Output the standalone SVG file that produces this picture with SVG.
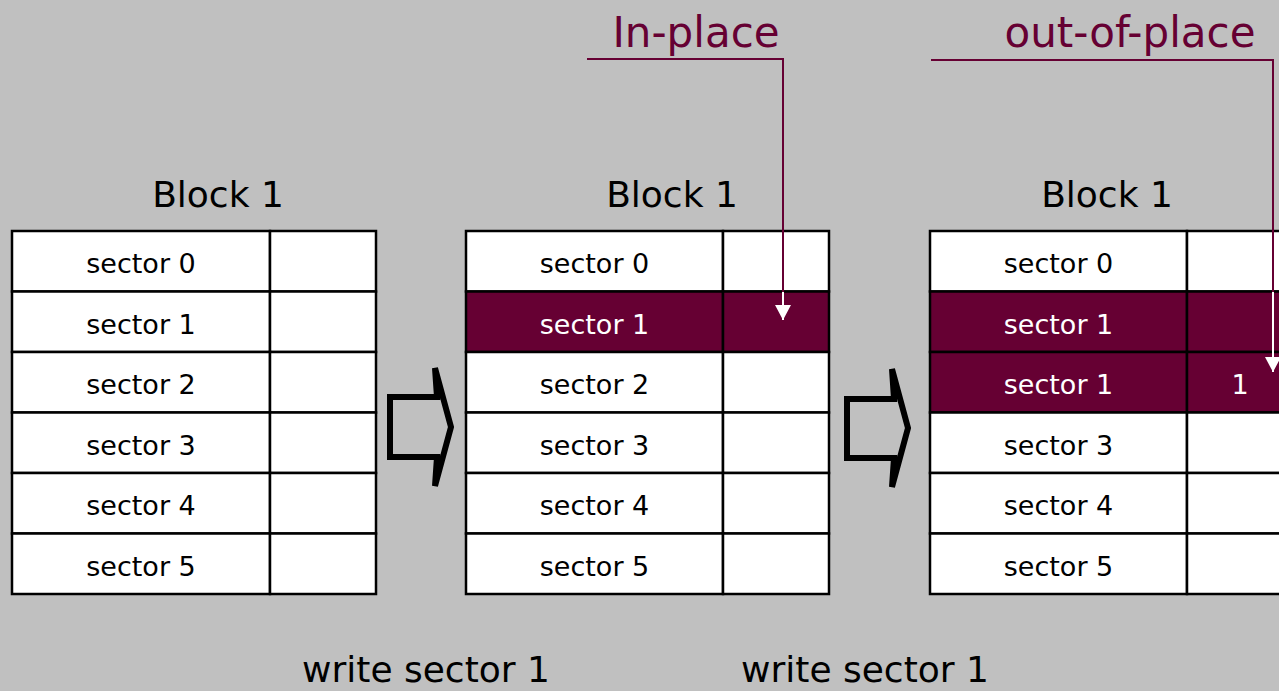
<svg xmlns="http://www.w3.org/2000/svg" width="1279" height="691" viewBox="0 0 1279 691">
<style>
.bg{fill:#c0c0c0}
.cell{fill:#ffffff;stroke:#000;stroke-width:2.5}
.hot{fill:#660033;stroke:#000;stroke-width:2.5}
.st{font-family:"DejaVu Sans",Verdana,sans-serif;font-size:27px;fill:#000;text-anchor:middle}
.sw{font-family:"DejaVu Sans",Verdana,sans-serif;font-size:27px;fill:#fff;text-anchor:middle}
.title{font-family:"DejaVu Sans",Verdana,sans-serif;font-size:36px;fill:#000;text-anchor:middle}
.lbl{font-family:"DejaVu Sans",Verdana,sans-serif;font-size:42px;fill:#660033;text-anchor:middle}
.big{fill:none;stroke:#000;stroke-width:6;stroke-linejoin:miter}
.con{fill:none;stroke:#660033;stroke-width:2}
.conw{fill:none;stroke:#fff;stroke-width:2}
</style>
<defs>
<marker id="ah" markerWidth="16" markerHeight="16" refX="15" refY="8" orient="auto" markerUnits="userSpaceOnUse">
<path d="M0,0 L15,8 L0,16 Z" fill="#fff"/>
</marker>
</defs>
<rect class="bg" x="0" y="0" width="1279" height="691"/>

<g id="block-a">
<text class="title" x="218" y="207">Block 1</text>
<rect class="cell" x="12" y="231" width="258" height="60.5"/><rect class="cell" x="270" y="231" width="106" height="60.5"/>
<rect class="cell" x="12" y="291.5" width="258" height="60.5"/><rect class="cell" x="270" y="291.5" width="106" height="60.5"/>
<rect class="cell" x="12" y="352" width="258" height="60.5"/><rect class="cell" x="270" y="352" width="106" height="60.5"/>
<rect class="cell" x="12" y="412.5" width="258" height="60.5"/><rect class="cell" x="270" y="412.5" width="106" height="60.5"/>
<rect class="cell" x="12" y="473" width="258" height="60.5"/><rect class="cell" x="270" y="473" width="106" height="60.5"/>
<rect class="cell" x="12" y="533.5" width="258" height="60.5"/><rect class="cell" x="270" y="533.5" width="106" height="60.5"/>
<text class="st" x="141" y="273">sector 0</text>
<text class="st" x="141" y="333.5">sector 1</text>
<text class="st" x="141" y="394">sector 2</text>
<text class="st" x="141" y="454.5">sector 3</text>
<text class="st" x="141" y="515">sector 4</text>
<text class="st" x="141" y="575.5">sector 5</text>
</g>

<g id="block-b">
<text class="title" x="672" y="207">Block 1</text>
<rect class="cell" x="466" y="231" width="257" height="60.5"/><rect class="cell" x="723" y="231" width="106" height="60.5"/>
<rect class="hot" x="466" y="291.5" width="257" height="60.5"/><rect class="hot" x="723" y="291.5" width="106" height="60.5"/>
<rect class="cell" x="466" y="352" width="257" height="60.5"/><rect class="cell" x="723" y="352" width="106" height="60.5"/>
<rect class="cell" x="466" y="412.5" width="257" height="60.5"/><rect class="cell" x="723" y="412.5" width="106" height="60.5"/>
<rect class="cell" x="466" y="473" width="257" height="60.5"/><rect class="cell" x="723" y="473" width="106" height="60.5"/>
<rect class="cell" x="466" y="533.5" width="257" height="60.5"/><rect class="cell" x="723" y="533.5" width="106" height="60.5"/>
<text class="st" x="594.5" y="273">sector 0</text>
<text class="sw" x="594.5" y="333.5">sector 1</text>
<text class="st" x="594.5" y="394">sector 2</text>
<text class="st" x="594.5" y="454.5">sector 3</text>
<text class="st" x="594.5" y="515">sector 4</text>
<text class="st" x="594.5" y="575.5">sector 5</text>
</g>

<g id="block-c">
<text class="title" x="1107" y="207">Block 1</text>
<rect class="cell" x="930" y="231" width="257" height="60.5"/><rect class="cell" x="1187" y="231" width="106" height="60.5"/>
<rect class="hot" x="930" y="291.5" width="257" height="60.5"/><rect class="hot" x="1187" y="291.5" width="106" height="60.5"/>
<rect class="hot" x="930" y="352" width="257" height="60.5"/><rect class="hot" x="1187" y="352" width="106" height="60.5"/>
<rect class="cell" x="930" y="412.5" width="257" height="60.5"/><rect class="cell" x="1187" y="412.5" width="106" height="60.5"/>
<rect class="cell" x="930" y="473" width="257" height="60.5"/><rect class="cell" x="1187" y="473" width="106" height="60.5"/>
<rect class="cell" x="930" y="533.5" width="257" height="60.5"/><rect class="cell" x="1187" y="533.5" width="106" height="60.5"/>
<text class="st" x="1058.5" y="273">sector 0</text>
<text class="sw" x="1058.5" y="333.5">sector 1</text>
<text class="sw" x="1058.5" y="394">sector 1</text>
<text class="sw" x="1240" y="394">1</text>
<text class="st" x="1058.5" y="454.5">sector 3</text>
<text class="st" x="1058.5" y="515">sector 4</text>
<text class="st" x="1058.5" y="575.5">sector 5</text>
</g>

<g id="step-1">
<polygon class="big" points="390,397 437,397 435,368 451,427 435,486 437,457 390,457"/>
<text class="title" x="426" y="682">write sector 1</text>
</g>
<g id="step-2">
<polygon class="big" points="847,399 894,399 892,369 908,428 892,487 894,458 847,458"/>
<text class="title" x="865" y="682">write sector 1</text>
</g>

<g id="label-inplace">
<text class="lbl" x="696" y="47">In-place</text>
</g>
<g id="label-outofplace">
<text class="lbl" x="1130" y="47">out-of-place</text>
</g>

<g id="connectors">
<polyline class="con" points="587,59 783,59 783,292"/>
<line class="conw" x1="783" y1="292" x2="783" y2="320" marker-end="url(#ah)"/>
<polyline class="con" points="931,60 1273,60 1273,292"/>
<line class="conw" x1="1273" y1="292" x2="1273" y2="372" marker-end="url(#ah)"/>
</g>
</svg>
